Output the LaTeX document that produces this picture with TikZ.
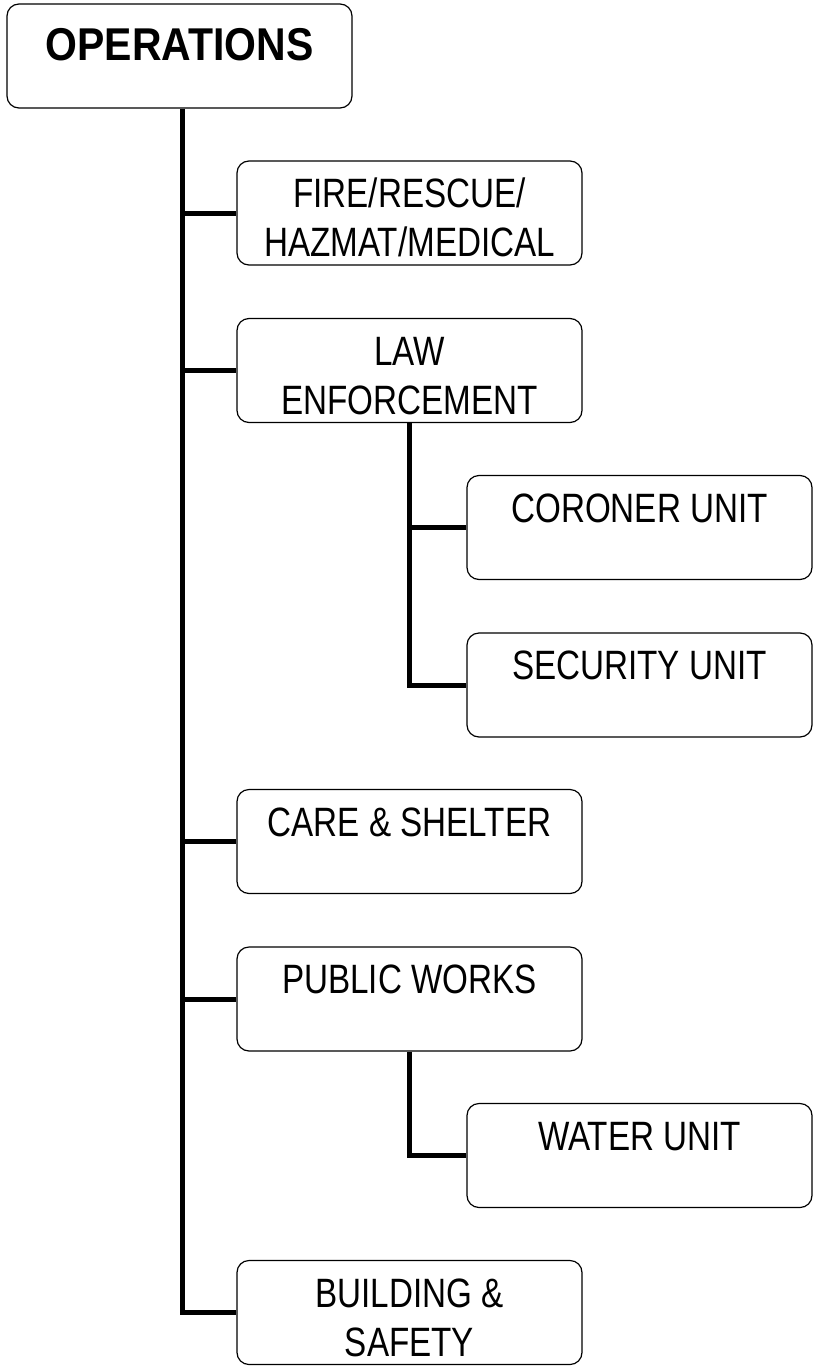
\documentclass[tikz,border=0pt]{standalone}
\usepackage{fontspec}
\setmainfont{Liberation Sans}[FakeStretch=0.81]
\newfontfamily\opsfont{Liberation Sans}[FakeStretch=0.89]
\newcommand{\mystrutA}{\rule{0pt}{41pt}}
\newcommand{\mystrutB}{\rule{0pt}{46pt}}
\begin{document}
\begin{tikzpicture}[x=1pt,y=-1pt,
  box/.style={draw, line width=1.2pt, rounded corners=12pt, minimum width=345pt, minimum height=104pt, inner sep=0pt},
  lbl/.style={anchor=north, inner sep=0pt, align=center, font=\fontsize{41}{49}\selectfont},
  conn/.style={line width=5pt, line join=miter}]
\useasboundingbox (0,0) rectangle (817,1368);
\node[box] (ops) at (179.5,56) {};
\node[box] (fire) at (409.5,213) {};
\node[box] (law) at (409.5,370.5) {};
\node[box] (cor) at (639.5,527.5) {};
\node[box] (sec) at (639.5,685) {};
\node[box] (care) at (409.5,841.5) {};
\node[box] (pw) at (409.5,999) {};
\node[box] (water) at (639.5,1155.5) {};
\node[box] (bld) at (409.5,1312.5) {};
% texts
\node[anchor=north, inner sep=0pt, font=\opsfont\bfseries\fontsize{46}{52}\selectfont] (opsT) at ([yshift=-10.5pt]ops.north) {\mystrutB OPERATIONS};
\node[lbl] (fireT) at ([yshift=-6pt]fire.north) {\mystrutA FIRE/RESCUE/\\HAZMAT/MEDICAL};
\node[lbl] (lawT) at ([yshift=-6pt]law.north) {\mystrutA LAW\\ENFORCEMENT};
\node[lbl] (corT) at ([yshift=-6pt]cor.north) {\mystrutA CORONER UNIT};
\node[lbl] (secT) at ([yshift=-6pt]sec.north) {\mystrutA SECURITY UNIT};
\node[lbl] (careT) at ([yshift=-6pt]care.north) {\mystrutA CARE \& SHELTER};
\node[lbl] (pwT) at ([yshift=-6pt]pw.north) {\mystrutA PUBLIC WORKS};
\node[lbl] (waterT) at ([yshift=-6pt]water.north) {\mystrutA WATER UNIT};
\node[lbl] (bldT) at ([yshift=-6pt]bld.north) {\mystrutA BUILDING \&\\SAFETY};
% connectors
\coordinate (trunk) at ([xshift=2.5pt]ops.south);
\draw[conn] (trunk) |- (bld.west);
\draw[conn] (trunk |- fire.west) -- (fire.west);
\draw[conn] (trunk |- law.west) -- (law.west);
\draw[conn] (trunk |- care.west) -- (care.west);
\draw[conn] (trunk |- pw.west) -- (pw.west);
\draw[conn] (law.south) |- (sec.west);
\draw[conn] (law.south |- cor.west) -- (cor.west);
\draw[conn] (pw.south) |- (water.west);
\end{tikzpicture}
\end{document}
